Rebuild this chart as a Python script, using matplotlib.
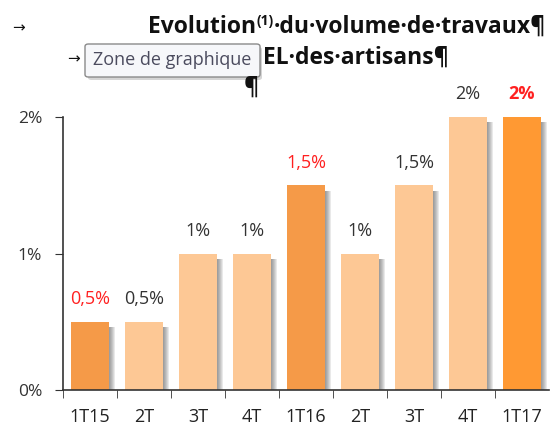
import numpy as np
import matplotlib.pyplot as plt
from matplotlib.patches import FancyBboxPatch

plt.rcParams['font.family'] = ['Open Sans', 'DejaVu Sans']

# data
categories = ['1T15', '2T', '3T', '4T', '1T16', '2T', '3T', '4T', '1T17']
values = [0.5, 0.5, 1.0, 1.0, 1.5, 1.0, 1.5, 2.0, 2.0]
value_labels = ['0,5%', '0,5%', '1%', '1%', '1,5%', '1%', '1,5%', '2%', '2%']
highlight = [True, False, False, False, True, False, False, False, True]
bar_colors = ['#F59A48', '#FDC895', '#FDC895', '#FDC895', '#F59A48',
              '#FDC895', '#FDC895', '#FDC895', '#FF9933']
yticks = [0, 1, 2]
ytick_labels = ['0%', '1%', '2%']

W, H = 552, 425
fig = plt.figure(figsize=(W / 100, H / 100), dpi=100)
ax = fig.add_axes([63 / W, 1 - 390 / H, 486 / W, (390 - 117) / H])

x = np.arange(len(categories))
bw = 0.69

# soft shadow to the right of each bar
for k in range(6):
    off = 0.02 + k * 0.018
    ax.bar(x + off, np.array(values) - 0.04, width=bw, bottom=0,
           color='#505050', alpha=0.12, zorder=1, align='center')
ax.bar(x, values, width=bw, color=bar_colors, zorder=2)

for xi, v, lab, hl in zip(x, values, value_labels, highlight):
    col = '#FF2020' if hl else '#333333'
    weight = 'bold' if (hl and lab == '2%') else 'normal'
    ax.text(xi, v + 0.1, lab, ha='center', va='bottom', fontsize=13,
            color=col, fontweight=weight)

ax.set_xlim(-0.5, len(categories) - 0.5)
ax.set_ylim(0, 2)
ax.set_yticks(yticks)
ax.set_yticklabels(ytick_labels, fontsize=12.5, color='#333333')
ax.set_xticks(x)
ax.set_xticklabels(categories, fontsize=13, color='#222222')
ax.set_xticks(np.arange(len(categories)) - 0.5, minor=True)
ax.tick_params(axis='x', which='major', length=0, pad=13)
ax.tick_params(axis='x', which='minor', length=6, direction='out', color='#333333')
ax.tick_params(axis='y', length=6, direction='out', color='#333333', pad=9)
for s in ['top', 'right']:
    ax.spines[s].set_visible(False)
for s in ['left', 'bottom']:
    ax.spines[s].set_color('#333333')
    ax.spines[s].set_linewidth(1.2)

# title with Word formatting marks
fig.canvas.draw()
r = fig.canvas.get_renderer()
t1 = fig.text(546 / W, 1 - 27 / H, '·du·volume·de·travaux¶', ha='right',
              va='center', fontsize=16.5, fontweight='bold', color='#111111')
bb = t1.get_window_extent(r)
t2 = fig.text(bb.x0 / W, 1 - 21 / H, '(1)', ha='right', va='center',
              fontsize=10, fontweight='bold', color='#111111')
bb2 = t2.get_window_extent(r)
fig.text(bb2.x0 / W, 1 - 27 / H, 'Evolution', ha='right', va='center',
         fontsize=16.5, fontweight='bold', color='#111111')
fig.text(12 / W, 1 - 28 / H, '→', ha='left', va='center', fontsize=11,
         color='#111111', family=['DejaVu Sans'])
fig.text(67 / W, 1 - 59 / H, '→', ha='left', va='center', fontsize=11,
         color='#111111', family=['DejaVu Sans'])
fig.text(263 / W, 1 - 58 / H, 'EL·des·artisans¶', ha='left', va='center',
         fontsize=16.5, fontweight='bold', color='#111111')
fig.text(251 / W, 1 - 88 / H, '¶', ha='center', va='center',
         fontsize=16.5, fontweight='bold', color='#111111')

# tooltip "Zone de graphique"
shadow = FancyBboxPatch((88 / W, 1 - 80 / H), 174 / W, 33 / H,
                        boxstyle='round,pad=0,rounding_size=0.006',
                        transform=fig.transFigure, facecolor='#888888',
                        alpha=0.35, edgecolor='none')
fig.add_artist(shadow)
tip = FancyBboxPatch((85 / W, 1 - 77 / H), 175 / W, 33 / H,
                     boxstyle='round,pad=0,rounding_size=0.006',
                     transform=fig.transFigure, facecolor='#F6F7FA',
                     edgecolor='#8A8A8A', linewidth=1)
fig.add_artist(tip)
fig.text(172 / W, 1 - 60 / H, 'Zone de graphique', ha='center', va='center',
         fontsize=13, color='#4B4B5E')

fig.savefig('out.png', dpi=100)
